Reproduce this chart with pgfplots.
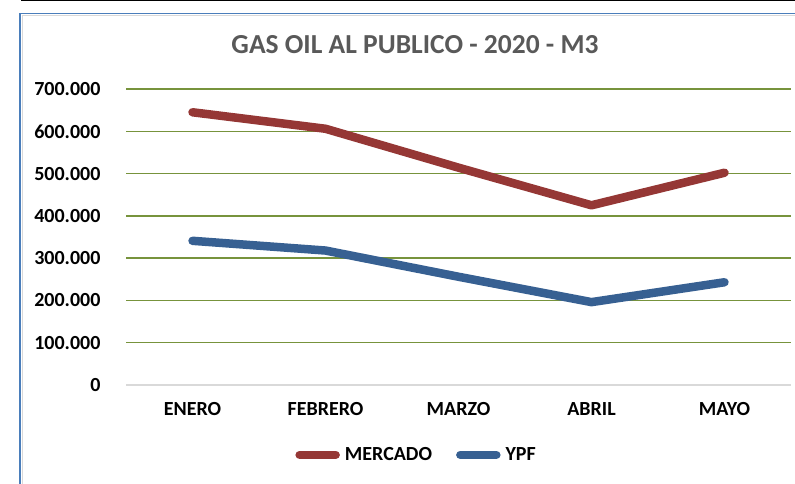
\documentclass[border=0pt]{standalone}
\usepackage{fontspec}
\setmainfont{Carlito}
\usepackage{pgfplots}
\pgfplotsset{compat=1.18}
\definecolor{mercado}{HTML}{953735}
\definecolor{ypf}{HTML}{376092}
\definecolor{gridg}{HTML}{77933C}
\definecolor{frameb}{HTML}{4A7EBB}
\definecolor{titleg}{HTML}{595959}
\begin{document}
\begin{tikzpicture}
\useasboundingbox (0pt,0pt) rectangle (795pt,-484pt);
\draw[black, line width=2pt] (21pt,-0.5pt) -- (800pt,-0.5pt);
\draw[frameb, line width=1.6pt] (20pt,-13.5pt) rectangle (820pt,-500pt);
\draw[black!15, line width=0.8pt] (22pt,-15pt) rectangle (818pt,-498pt);
\node[font=\fontsize{27.5}{32}\selectfont\bfseries, text=titleg] at (415pt,-45pt) {GAS OIL AL PUBLICO - 2020 - M3};
\begin{axis}[
  at={(126pt,-385pt)}, anchor=south west,
  scale only axis, width=665pt, height=296pt,
  xmin=-0.5, xmax=4.5, ymin=0, ymax=700000,
  xtick={0,1,2,3,4},
  xticklabels={ENERO,FEBRERO,MARZO,ABRIL,MAYO},
  ytick={100000,200000,300000,400000,500000,600000,700000},
  yticklabels={100.000,200.000,300.000,400.000,500.000,600.000,700.000},
  extra y ticks={0}, extra y tick labels={0},
  extra y tick style={grid=none},
  scaled y ticks=false,
  /pgf/number format/assume math mode=true,
  tick style={draw=none},
  axis x line*=bottom, axis y line*=left,
  x axis line style={draw=black!15, line width=1.2pt, -},
  y axis line style={draw=none},
  ymajorgrids, grid style={gridg, line width=1.4pt},
  ticklabel style={font=\fontsize{20}{24}\selectfont\bfseries},
  yticklabel style={anchor=east, xshift=-22pt},
  xticklabel style={anchor=north, yshift=-14pt},
  legend columns=2,
  legend style={at={(0.437,-0.236)}, anchor=center, draw=none, fill=none,
    font=\fontsize{20}{24}\selectfont\bfseries,
    /tikz/every odd column/.append style={column sep=3pt},
    /tikz/every even column/.append style={column sep=22pt}},
  legend image code/.code={\draw[#1, line cap=round] (0pt,0pt) -- (36pt,0pt);},
]
\addplot[mercado, line width=8.5pt, line cap=round, line join=round] coordinates {(0,645000) (1,606000) (2,514000) (3,425000) (4,502000)};
\addlegendentry{MERCADO}
\addplot[ypf, line width=8.5pt, line cap=round, line join=round] coordinates {(0,341000) (1,318000) (2,256000) (3,196000) (4,243000)};
\addlegendentry{YPF}
\end{axis}
\end{tikzpicture}
\end{document}
